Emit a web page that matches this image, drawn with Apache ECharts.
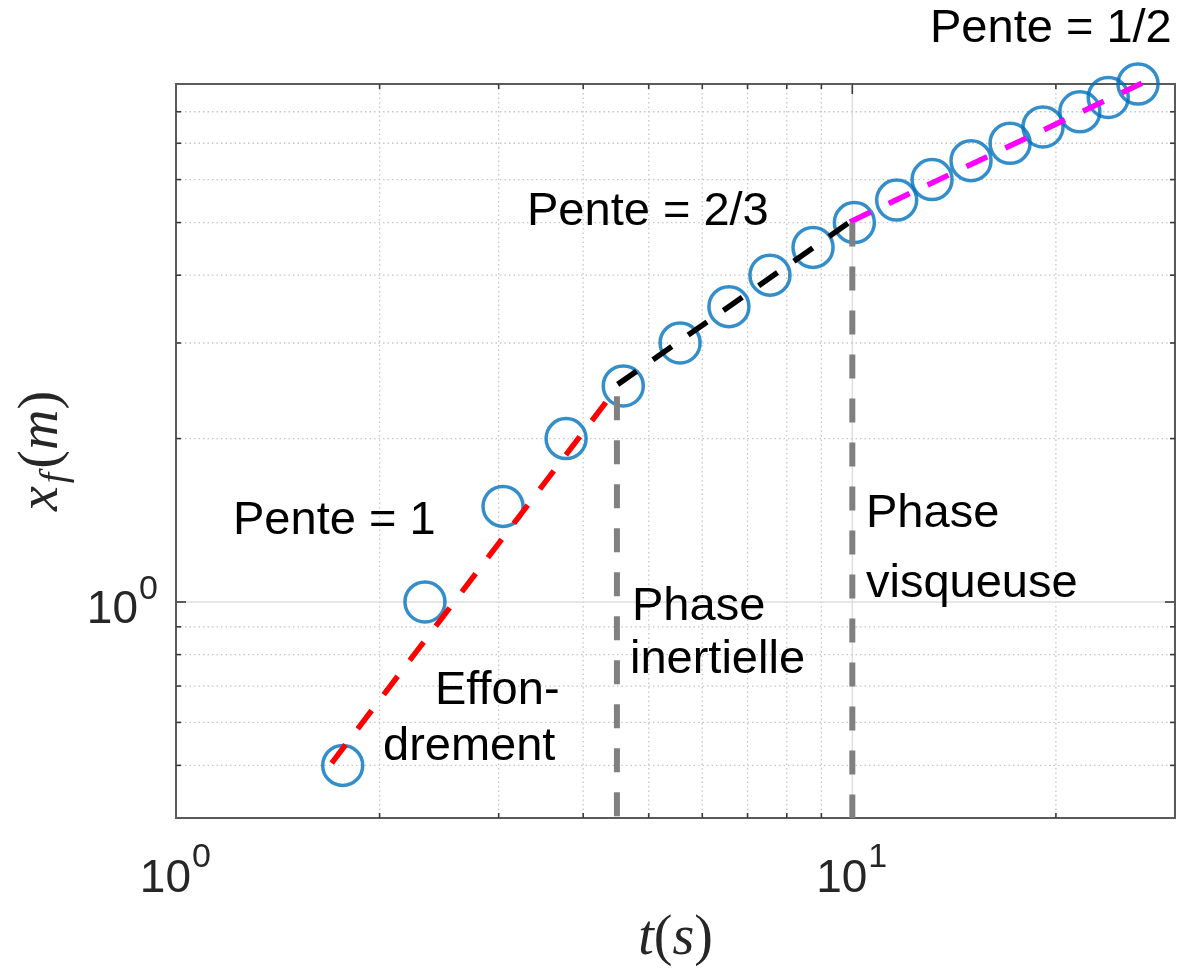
<!DOCTYPE html>
<html>
<head>
<meta charset="utf-8">
<script src="https://cdn.jsdelivr.net/npm/echarts@6/dist/echarts.min.js"></script>
<style>
  html, body { margin: 0; padding: 0; background: #ffffff; }
  #chart { width: 1179px; height: 972px; }
</style>
</head>
<body>
<div id="chart"></div>
<script>
// Front position x_f (m) against time t (s), both axes logarithmic
const timeS  = [1.764, 2.334, 3.045, 3.774, 4.585, 5.564, 6.57, 7.555, 8.748,
                10.07, 11.63, 13.12, 14.98, 17.11, 19.14, 21.7, 23.9, 26.45];
const frontM = [0.5, 1.0, 1.5, 2.0, 2.5, 3.0, 3.5, 4.0, 4.5,
                5.0, 5.5, 6.0, 6.5, 7.0, 7.5, 8.0, 8.5, 9.0];

// Power-law segments, [t, x_f] end points
const collapseFit = [[1.699, 0.505], [4.393, 2.396]];
const inertialFit = [[4.499, 2.517], [9.92, 5.014]];
const viscousFit  = [[9.92, 5.014], [26.8, 9.03]];

// Phase boundaries: time and the x_f where the marker starts
const phaseBoundT   = [4.487, 10.0];
const phaseBoundTop = [2.393, 5.0];

// Axis ranges, decade labels and grid values
const xRange = [1, 30];
const yRange = [0.4, 9];
const xDecades = [1, 10];
const yDecades = [1];
const xMinorGrid = [2, 3, 4, 5, 6, 7, 8, 9, 20];
const xMajorGrid = [10];
const yMinorGrid = [0.5, 0.6, 0.7, 0.8, 0.9, 2, 3, 4, 5, 6, 7, 8];
const yMajorGrid = [1];

const tickFont = 'Liberation Sans, Arial, sans-serif';
const mathFont = 'Liberation Serif, Times New Roman, serif';
const labelColor = '#262626';

// grid lines and inward ticks: [x, y, kind] kind 0 x-minor, 1 x-major, 2 y-minor, 3 y-major
const gridItems = []
  .concat(xMinorGrid.map(v => [v, 1, 0]))
  .concat(xMajorGrid.map(v => [v, 1, 1]))
  .concat(yMinorGrid.map(v => [1, v, 2]))
  .concat(yMajorGrid.map(v => [1, v, 3]));

function renderGrid(params, api) {
  const cs = params.coordSys;
  const kind = api.value(2);
  const major = kind === 1 || kind === 3;
  const gridStyle = major
    ? { stroke: '#dedede', lineWidth: 1.5 }
    : { stroke: '#c6c6c6', lineWidth: 1.3, lineDash: [1.5, 3] };
  const tickStyle = { stroke: '#3a3a3a', lineWidth: 1.6 };
  const len = major ? 10 : 5;
  const x0 = cs.x, x1 = cs.x + cs.width, y0 = cs.y, y1 = cs.y + cs.height;
  const children = [];
  if (kind < 2) {
    const px = api.coord([api.value(0), 1])[0];
    children.push({ type: 'line', shape: { x1: px, y1: y0, x2: px, y2: y1 }, style: gridStyle });
    children.push({ type: 'line', shape: { x1: px, y1: y1, x2: px, y2: y1 - len }, style: tickStyle });
    children.push({ type: 'line', shape: { x1: px, y1: y0, x2: px, y2: y0 + len }, style: tickStyle });
  } else {
    const py = api.coord([1, api.value(1)])[1];
    children.push({ type: 'line', shape: { x1: x0, y1: py, x2: x1, y2: py }, style: gridStyle });
    children.push({ type: 'line', shape: { x1: x0, y1: py, x2: x0 + len, y2: py }, style: tickStyle });
    children.push({ type: 'line', shape: { x1: x1, y1: py, x2: x1 - len, y2: py }, style: tickStyle });
  }
  return { type: 'group', children: children };
}

// decade labels "10" with a raised exponent: [x, y, axis] axis 0 = x, 1 = y
const decadeItems = []
  .concat(xDecades.map(v => [v, yRange[0], 0]))
  .concat(yDecades.map(v => [xRange[0], v, 1]));

function renderDecade(params, api) {
  const axis = api.value(2);
  const val = axis === 0 ? api.value(0) : api.value(1);
  const exp = String(Math.round(Math.log10(val)));
  const p = api.coord([api.value(0), api.value(1)]);
  const base = { fontFamily: tickFont, fill: labelColor, verticalAlign: 'middle' };
  let bx, by, sx, sy;
  if (axis === 0) { bx = p[0] + 15; by = p[1] + 61; sx = p[0] + 16; sy = p[1] + 40; }
  else { bx = p[0] - 38; by = p[1] + 8; sx = p[0] - 37; sy = p[1] - 12; }
  return {
    type: 'group',
    children: [
      { type: 'text', x: bx, y: by, style: Object.assign({ text: '10', fontSize: 46, align: 'right' }, base) },
      { type: 'text', x: sx, y: sy, style: Object.assign({ text: exp, fontSize: 34, align: 'left' }, base) }
    ]
  };
}

function dashed(name, data, color, width, dash) {
  return {
    name: name, type: 'line', data: data, showSymbol: false, symbol: 'none',
    silent: true, z: 4, clip: false, animation: false,
    lineStyle: { color: color, width: width, type: dash, cap: 'butt' }
  };
}

const boundSeries = phaseBoundT.map((t, i) =>
  dashed('phase' + i, [[t, phaseBoundTop[i]], [t, yRange[0]]], '#808080', 6, [24, 20]));

const annot = (text, x, y) => ({
  type: 'text', x: x, y: y, silent: true, z: 10,
  style: { text: text, fontFamily: tickFont, fontSize: 47, fill: '#000000', align: 'left', verticalAlign: 'middle' }
});

const chart = echarts.init(document.getElementById('chart'), null, { renderer: 'canvas' });
chart.setOption({
  animation: false,
  backgroundColor: '#ffffff',
  grid: {
    left: 176, right: 4, top: 84, bottom: 152,
    show: true, borderColor: '#5a5a5a', borderWidth: 2, backgroundColor: '#ffffff'
  },
  xAxis: {
    type: 'log', logBase: 10, min: xRange[0], max: xRange[1],
    axisLine: { show: false }, axisTick: { show: false }, splitLine: { show: false },
    axisLabel: { show: false },
    name: '{i|t}{p|(}{i|s}{p|)}', nameLocation: 'middle', nameGap: 93,
    nameTextStyle: {
      rich: {
        i: { fontFamily: mathFont, fontStyle: 'italic', fontSize: 56, color: labelColor },
        p: { fontFamily: mathFont, fontSize: 56, color: labelColor }
      }
    }
  },
  yAxis: {
    type: 'log', logBase: 10, min: yRange[0], max: yRange[1],
    axisLine: { show: false }, axisTick: { show: false }, splitLine: { show: false },
    axisLabel: { show: false },
    name: '{i|x}{f|f}{p|(}{i|m}{p|)}', nameLocation: 'middle', nameGap: 106, nameRotate: 90,
    nameTextStyle: {
      rich: {
        i: { fontFamily: mathFont, fontStyle: 'italic', fontSize: 56, lineHeight: 56, color: labelColor },
        f: { fontFamily: mathFont, fontStyle: 'italic', fontSize: 38, lineHeight: 38, color: labelColor,
             padding: [28, 4, 0, 3] },
        p: { fontFamily: mathFont, fontSize: 56, lineHeight: 56, color: labelColor }
      }
    }
  },
  series: [
    {
      name: 'grid', type: 'custom', data: gridItems, renderItem: renderGrid,
      encode: { x: 0, y: 1 }, silent: true, z: 1, clip: false, animation: false
    },
    {
      name: 'decades', type: 'custom', data: decadeItems, renderItem: renderDecade,
      encode: { x: 0, y: 1 }, silent: true, z: 5, clip: false, animation: false
    },
    {
      name: 'x_f', type: 'scatter', z: 3, clip: false, silent: true,
      data: timeS.map((t, i) => [t, frontM[i]]),
      symbol: 'circle', symbolSize: 40,
      itemStyle: { color: 'rgba(0,0,0,0)', borderColor: '#0072BD', borderWidth: 3.5 }
    },
    dashed('collapse', collapseFit, '#ff0000', 5.5, [23, 20]),
    dashed('inertial', inertialFit, '#000000', 5.5, [23, 20]),
    dashed('viscous', viscousFit, '#ff00ff', 5.5, [23, 20])
  ].concat(boundSeries),
  graphic: [
    annot('Pente = 1/2', 930, 29),
    annot('Pente = 2/3', 527, 212),
    annot('Pente = 1', 233, 521),
    annot('Effon-', 435, 691),
    annot('drement', 383, 747),
    annot('Phase', 632, 607),
    annot('inertielle', 630, 660),
    annot('Phase', 866, 514),
    annot('visqueuse', 866, 584)
  ]
});
</script>
</body>
</html>
